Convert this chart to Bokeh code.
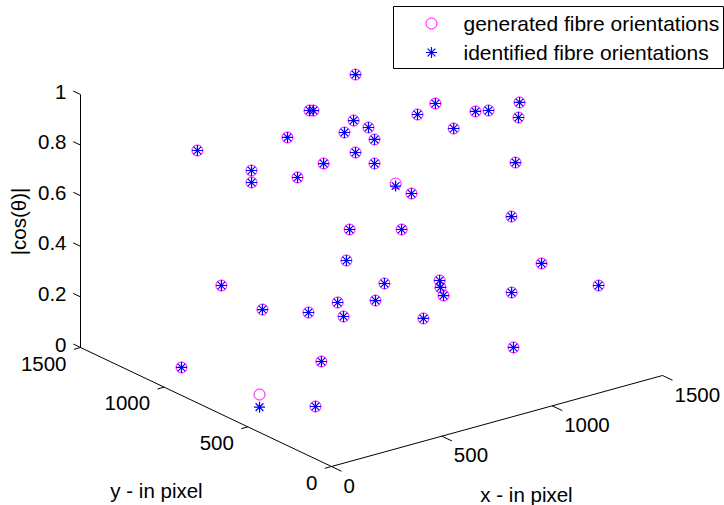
import numpy as np
from bokeh.plotting import figure
from bokeh.models import Range1d
from bokeh.core.properties import value
from bokeh.embed import file_html
from bokeh.resources import INLINE

# ---- data: generated fibre orientations (x, y in pixel, z = |cos(theta)|)
gen_x = [272, 1078, 805, 816, 932, 963, 864, 954, 640, 836, 885, 693, 398, 387, 549, 901,
         932, 1167, 1239, 1186, 1260, 1288, 1349, 1316, 1173, 1156, 1234, 1156, 1356, 1028,
         644, 885, 631, 754, 961, 952, 927, 369, 520, 437, 671, 498, 792, 320, 77, 300, 122, 164]
gen_y = [1160, 1278, 1193, 1184, 1097, 1049, 1062, 1001, 1107, 959, 910, 961, 1003, 988, 927,
         805, 751, 1025, 1013, 834, 801, 760, 655, 618, 447, 449, 372, 448, 192, 268, 741, 748,
         743, 678, 621, 604, 553, 899, 649, 714, 622, 585, 495, 1080, 998, 456, 591, 312]
gen_z = [0.82, 0.89, 0.84, 0.84, 0.80, 0.78, 0.78, 0.75, 0.80, 0.74, 0.70, 0.73, 0.76, 0.72,
         0.72, 0.65, 0.62, 0.79, 0.82, 0.79, 0.85, 0.86, 0.91, 0.87, 0.78, 0.57, 0.39, 0.27,
         0.33, 0.14, 0.55, 0.49, 0.43, 0.33, 0.31, 0.29, 0.28, 0.25, 0.32, 0.28, 0.30, 0.29,
         0.24, 0.30, 0.06, 0.20, 0.07, 0.10]

# ---- data: identified fibre orientations
idf_x = [272, 1078, 805, 816, 932, 963, 864, 954, 640, 836, 885, 693, 398, 387, 549, 901,
         932, 1167, 1239, 1186, 1260, 1288, 1349, 1316, 1173, 1156, 1234, 1156, 1356, 1028,
         644, 885, 631, 754, 961, 952, 927, 369, 520, 437, 671, 498, 792, 320, 77, 300, 122, 164]
idf_y = [1160, 1278, 1193, 1184, 1097, 1049, 1062, 1001, 1107, 959, 910, 961, 1003, 988, 927,
         805, 751, 1025, 1013, 834, 801, 760, 655, 618, 447, 449, 372, 448, 192, 268, 741, 748,
         743, 678, 621, 604, 553, 899, 649, 714, 622, 585, 495, 1080, 998, 456, 591, 312]
idf_z = [0.82, 0.89, 0.84, 0.84, 0.80, 0.78, 0.78, 0.75, 0.80, 0.74, 0.70, 0.73, 0.76, 0.72,
         0.72, 0.64, 0.62, 0.79, 0.82, 0.79, 0.85, 0.86, 0.91, 0.87, 0.78, 0.57, 0.39, 0.27,
         0.33, 0.14, 0.55, 0.49, 0.43, 0.33, 0.31, 0.29, 0.28, 0.25, 0.32, 0.28, 0.30, 0.29,
         0.24, 0.30, 0.06, 0.20, 0.02, 0.10]

x_ticks = [0, 500, 1000, 1500]
x_tick_labels = ["0", "500", "1000", "1500"]
y_ticks = [0, 500, 1000, 1500]
y_tick_labels = ["0", "500", "1000", "1500"]
z_ticks = [0, 0.2, 0.4, 0.6, 0.8, 1.0]
z_tick_labels = ["0", "0.2", "0.4", "0.6", "0.8", "1"]

legend_labels = ["generated fibre orientations", "identified fibre orientations"]

XMAX, YMAX, ZMAX = 1500.0, 1500.0, 1.0

# ---- orthographic view (screen pixels)
ORIGIN = (331.0, 466.0)
EX = (331.0, -91.0)
EY = (-251.0, -119.0)
EZ = (0.0, -253.0)


def proj(x, y, z):
    x = np.asarray(x, float) / XMAX
    y = np.asarray(y, float) / YMAX
    z = np.asarray(z, float) / ZMAX
    sx = ORIGIN[0] + x * EX[0] + y * EY[0] + z * EZ[0]
    sy = ORIGIN[1] + x * EX[1] + y * EY[1] + z * EZ[1]
    return sx, sy


FONT = value("Liberation Sans")
FS = "20.5px"
LFS = "21px"

p = figure(width=724, height=505, x_range=Range1d(0, 724), y_range=Range1d(505, 0),
           output_backend="svg", toolbar_location=None,
           x_axis_location=None, y_axis_location=None, min_border=0)
p.grid.visible = False
p.outline_line_color = None
p.background_fill_color = "white"
p.border_fill_color = "white"

# ---- axes
ax0, ay0 = proj([0, 0, 0], [0, 0, YMAX], [0, 0, 0])
ax1, ay1 = proj([XMAX, 0, 0], [0, YMAX, YMAX], [0, 0, ZMAX])
p.segment(ax0, ay0, ax1, ay1, line_color="black", line_width=1)

# x ticks
zx = np.zeros(len(x_ticks))
tx0, ty0 = proj(x_ticks, zx, zx)
tx1, ty1 = proj(x_ticks, zx - 0.04 * YMAX, zx)
p.segment(tx0, ty0, tx1, ty1, line_color="black", line_width=1)
p.text(tx0 + 12, ty0 + 19, text=x_tick_labels, text_font=FONT, text_font_size=FS,
       text_align="left", text_baseline="middle", text_color="black")

# y ticks
zy = np.zeros(len(y_ticks))
yx0, yy0 = proj(zy, y_ticks, zy)
yx1, yy1 = proj(zy - 0.02 * XMAX, y_ticks, zy)
p.segment(yx0, yy0, yx1, yy1, line_color="black", line_width=1)
p.text(yx0 - 14, yy0 + 16, text=y_tick_labels, text_font=FONT, text_font_size=FS,
       text_align="right", text_baseline="middle", text_color="black")

# z ticks
zz = np.zeros(len(z_ticks))
zx0, zy0 = proj(zz, zz + YMAX, z_ticks)
zx1, zy1 = proj(zz, zz + 1.029 * YMAX, z_ticks)
p.segment(zx0, zy0, zx1, zy1, line_color="black", line_width=1)
p.text(zx0 - 14, zy0 - 3, text=z_tick_labels, text_font=FONT, text_font_size=FS,
       text_align="right", text_baseline="middle", text_color="black")

# axis titles
p.text([18], [221], text=["|cos(\u03b8)|"], angle=np.pi / 2, text_font=FONT, text_font_size=FS,
       text_align="center", text_baseline="middle", text_color="black")
p.text([156], [490], text=["y - in pixel"], text_font=FONT, text_font_size=FS,
       text_align="center", text_baseline="middle", text_color="black")
p.text([526], [494], text=["x - in pixel"], text_font=FONT, text_font_size=FS,
       text_align="center", text_baseline="middle", text_color="black")

# ---- data markers
gsx, gsy = proj(gen_x, gen_y, gen_z)
isx, isy = proj(idf_x, idf_y, idf_z)
p.scatter(gsx, gsy, marker="circle", size=11, fill_color=None, line_color="#ff00ff", line_width=1)
p.scatter(isx, isy, marker="asterisk", size=11, line_color="#0000ff", line_width=1.2)

# ---- legend
p.quad(left=[393], right=[723], top=[6], bottom=[68], fill_color="white",
       line_color="black", line_width=1)
p.scatter([431], [23], marker="circle", size=11, fill_color=None, line_color="#ff00ff")
p.scatter([431], [52], marker="asterisk", size=11, line_color="#0000ff", line_width=1.2)
p.text([463, 463], [23, 52], text=legend_labels, text_font=FONT, text_font_size=LFS,
       text_align="left", text_baseline="middle", text_color="black")

open("out.html", "w").write(file_html(p, INLINE))
